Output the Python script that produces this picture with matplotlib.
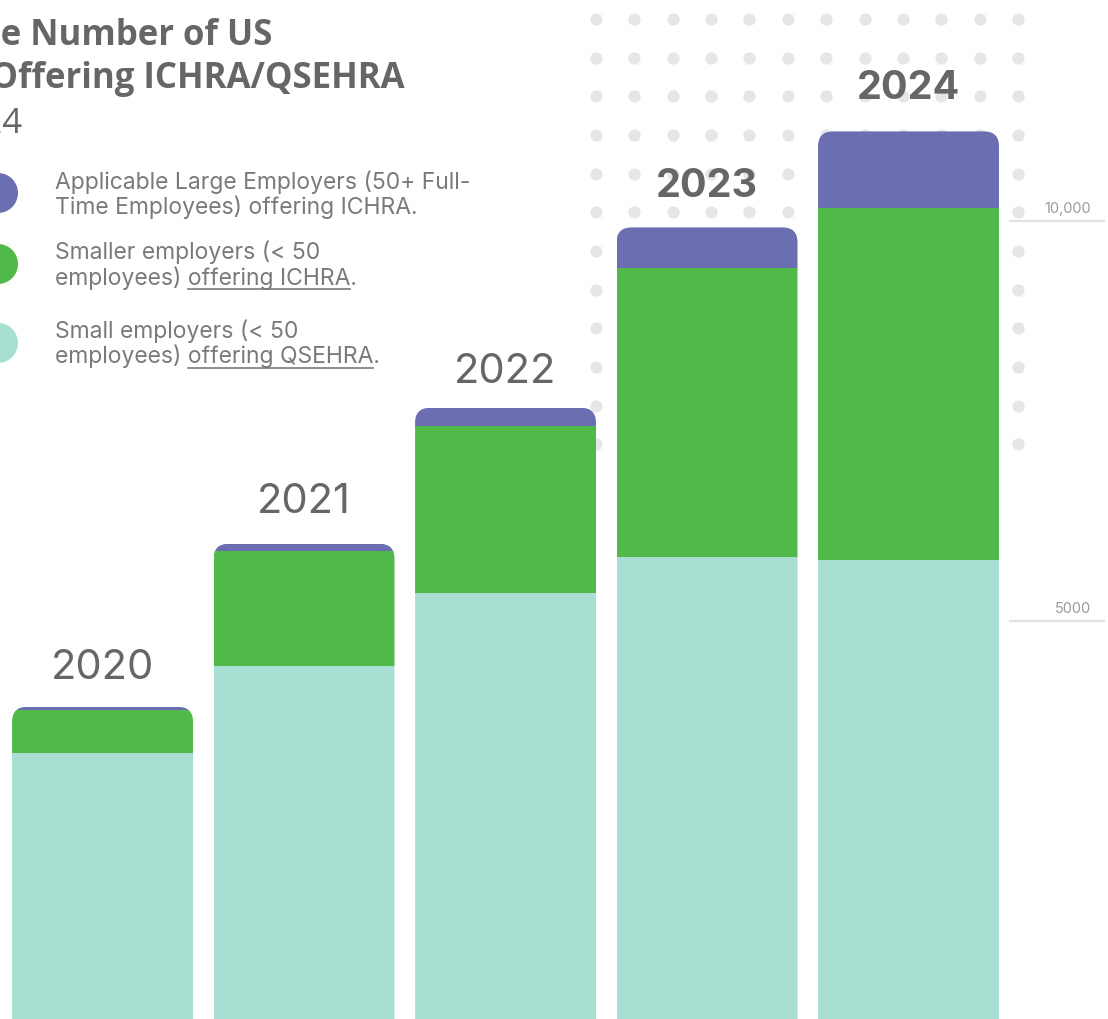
import numpy as np
import matplotlib
matplotlib.use("Agg")
import matplotlib.pyplot as plt
from matplotlib.patches import FancyBboxPatch, Circle
from matplotlib.lines import Line2D

# ---------------- data ----------------
years = ["2020", "2021", "2022", "2023", "2024"]
bold_years = ["2023", "2024"]
qsehra_small = [3350, 4440, 5350, 5800, 5760]      # Small employers (<50) offering QSEHRA
ichra_small = [540, 1435, 2090, 3610, 4400]        # Smaller employers (<50) offering ICHRA
ichra_large = [37, 90, 225, 510, 960]              # ALEs (50+) offering ICHRA
tick_values = [5000, 10000]
tick_labels = ["5000", "10,000"]

legend_items = [
    ("Applicable Large Employers (50+ Full-", "Time Employees) offering ICHRA.", None),
    ("Smaller employers (< 50", "employees) offering ICHRA.", "offering ICHRA"),
    ("Small employers (< 50", "employees) offering QSEHRA.", "offering QSEHRA"),
]

# label gap above each stack, in pixels (layout only)
label_gap_px = [28, 31, 25, 30, 32]

C_PURPLE = "#6B6EB1"
C_GREEN = "#51B84A"
C_TEAL = "#A9DFD2"
C_TEXT = "#666666"
C_LEG = "#7a7a7a"
FONT = "Inter"
TFONT = "Open Sans"

W, H = 1108, 1019
fig = plt.figure(figsize=(W / 100, H / 100), dpi=100)
fig.patch.set_facecolor("white")
ax = fig.add_axes([0, 0, 1, 1])
ax.set_xlim(-0.509, 4.99)
ax.set_ylim(25, 12762.5)
ax.axis("off")

def fx(px):
    return px / W

def fy(py):
    return 1 - py / H

# ---------------- dotted background ----------------
cols = 596 + 38.36 * np.arange(12)
rows = 19 + 38.65 * np.arange(12)
gx, gy = np.meshgrid(cols, rows)
ax.scatter(fx(gx.ravel()), fy(gy.ravel()), s=78, color="#e6e6e6", lw=0,
           transform=fig.transFigure, zorder=0)

# ---------------- bars ----------------
x = np.arange(len(years))
width = 0.898
q = np.array(qsehra_small)
s = np.array(ichra_small)
l = np.array(ichra_large)
b1 = ax.bar(x, q, width, color=C_TEAL, zorder=2, lw=0)
b2 = ax.bar(x, s, width, bottom=q, color=C_GREEN, zorder=2, lw=0)
b3 = ax.bar(x, l, width, bottom=q + s, color=C_PURPLE, zorder=2, lw=0)

# rounded top corners: clip each stack by a rounded box
px_per_x = 201.5
px_per_y = 0.08
r_px = 15
rx = r_px / px_per_x
aspect = (r_px / px_per_y) / rx
tops = q + s + l
for i in range(len(years)):
    clip = FancyBboxPatch((x[i] - width / 2, -3000), width, tops[i] + 3000,
                          boxstyle=f"round,pad=0,rounding_size={rx}",
                          mutation_aspect=aspect, transform=ax.transData)
    for bars in (b1, b2, b3):
        bars[i].set_clip_path(clip)

# year labels
for i, yr in enumerate(years):
    bold = yr in bold_years
    ax.annotate(yr, (x[i], tops[i]), xytext=(0, label_gap_px[i] * 0.72),
                textcoords="offset points",
                ha="center", va="baseline", fontsize=28.5 if bold else 30,
                family=FONT, fontweight="bold" if bold else "normal",
                color=C_TEXT, zorder=3)

# ---------------- right scale ----------------
for v, lab in zip(tick_values, tick_labels):
    ax.plot([4.499, 4.975], [v, v], color="#e2e2e2", lw=1.6, zorder=1,
            solid_capstyle="butt")
    ax.annotate(lab, (4.906, v), xytext=(0, 3.5), textcoords="offset points",
                ha="right", va="bottom", fontsize=10.5, family=FONT, color="#9a9a9a")

# ---------------- title (clipped at left edge) ----------------
fig.text(fx(272), fy(45), "Growth in the Number of US", ha="right", va="baseline",
         fontsize=25, fontweight="bold", family=TFONT, color=C_TEXT)
fig.text(fx(405), fy(88), "Employers Offering ICHRA/QSEHRA", ha="right", va="baseline",
         fontsize=25, fontweight="bold", family=TFONT, color=C_TEXT)
fig.text(fx(22), fy(133), "2020 - 2024", ha="right", va="baseline",
         fontsize=25, family=TFONT, color=C_TEXT)

# ---------------- legend ----------------
leg_colors = [C_PURPLE, C_GREEN, C_TEAL]
circle_y = [193, 264, 343]
line1_y = [189, 259, 338]
for c, cy in zip(leg_colors, circle_y):
    fig.add_artist(Circle((-2, H - cy), 20, color=c, transform=None, lw=0))

fig.canvas.draw()
renderer = fig.canvas.get_renderer()

def text_width(txt, size):
    t = fig.text(0, 0, txt, fontsize=size, family=FONT)
    w = t.get_window_extent(renderer).width
    t.remove()
    return w

LS = 16.5
for (l1, l2, ul), y1 in zip(legend_items, line1_y):
    fig.text(fx(55), fy(y1), l1, ha="left", va="baseline", fontsize=LS,
             family=FONT, color=C_LEG)
    fig.text(fx(55), fy(y1 + 25.5), l2, ha="left", va="baseline", fontsize=LS,
             family=FONT, color=C_LEG)
    if ul:
        idx = l2.index(ul)
        pre = l2[:idx]
        start = text_width(pre + "o", LS) - text_width("o", LS)
        end = text_width(l2[:idx + len(ul)], LS)
        yy = fy(y1 + 25.5 + 4)
        fig.add_artist(Line2D([fx(55 + start), fx(55 + end)], [yy, yy],
                              color=C_LEG, lw=1.2, transform=fig.transFigure))

fig.savefig("out.png", dpi=100, facecolor="white")
